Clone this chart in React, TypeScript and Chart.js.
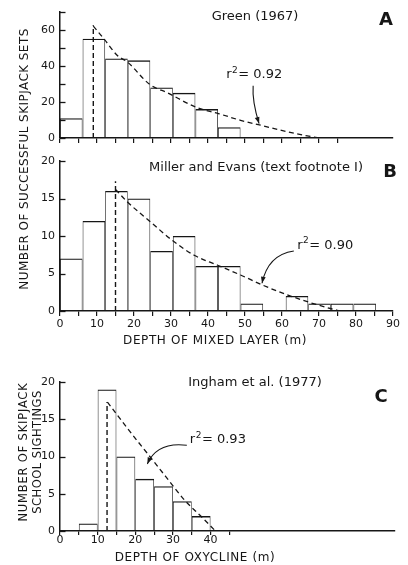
import React, { useEffect, useRef } from 'react';
import { Chart, registerables } from 'chart.js';

Chart.register(...registerables);

// ---------------- data ----------------
// Panel A — Green (1967): successful skipjack sets vs depth of mixed layer (20-ft = 6.1 m bins)
const aBinWidth = 6.1;
const aBinStarts = [0, 6.1, 12.2, 18.3, 24.4, 30.5, 36.6, 42.7];
const aCounts = [11, 55, 44, 43, 28, 25, 16, 6];
const aFitX = [9, 12, 15.5, 18.2, 24.3, 29, 36.8, 43, 48.8, 54.2, 61.4, 66, 70];
const aFitY = [62, 54.6, 45.7, 42.1, 29.6, 25.1, 17, 13.4, 9.8, 7.1, 3.5, 1.5, 0];
const aModeX = 9;
const aModeTop = 62.5;
const aFitLabel = '0.92';

// Panel B — Miller and Evans
const bBinWidth = 6.1;
const bBinStarts = [0, 6.1, 12.2, 18.3, 24.4, 30.5, 36.6, 42.7, 48.8, 54.9, 61.0, 67.1, 73.2, 79.3];
const bCounts = [7, 12, 16, 15, 8, 10, 6, 6, 1, 0, 2, 1, 1, 1];
const bFitX = [15, 18.3, 24.4, 30.4, 36.4, 42.6, 48.8, 55, 61.2, 67.1, 73.3, 75.7];
const bFitY = [16.2, 14.5, 11.9, 9.4, 7.4, 6.1, 4.8, 3.4, 2.2, 1.2, 0.3, 0];
const bModeX = 15;
const bModeTop = 17.3;
const bFitLabel = '0.90';

// Panel C — Ingham et al. (1977): school sightings vs depth of oxycline (5 m bins)
const cBinWidth = 5;
const cBinStarts = [5, 10, 15, 20, 25, 30, 35];
const cCounts = [1, 19, 10, 7, 6, 4, 2];
const cFitX = [12.6, 18.5, 24.5, 28.1, 33, 37.8, 41.3];
const cFitY = [17.3, 13.4, 9.6, 7.3, 4.2, 1.8, 0];
const cModeX = 12.5;
const cModeTop = 17.3;
const cFitLabel = '0.93';

// ---------------- styles ----------------
const INK = '#161616';
const FONT = '"DejaVu Sans", "Liberation Sans", sans-serif';

type Pt = { x: number; y: number };
type TextNote = { text: string; x: number; y: number; font: string; spacing?: number; rotate?: boolean };

type PanelSpec = {
  binStarts: number[];
  binWidth: number;
  counts: number[];
  fitX: number[];
  fitY: number[];
  modeX: number;
  modeTop: number;
  xMax: number;
  yMax: number;
  yStep: number;
  yLabelStep: number;
  top: number;
  bottom: number;
  right: number;
  xAxisHeight: number;
  xTickLen: number;
  xTickLimit: number;
  xLabelLimit: number;
  showXLabels: boolean;
  xLabelPad: number;
  fitLabel: string;
  r2At: Pt; // data coords (left, baseline)
  arrow: { s: Pt; c: Pt; e: Pt }; // data coords
  texts: TextNote[]; // page pixel coords
};

function drawR2(ctx: CanvasRenderingContext2D, x: number, y: number, value: string) {
  ctx.letterSpacing = '0px';
  ctx.textAlign = 'left';
  ctx.textBaseline = 'alphabetic';
  ctx.font = `13px ${FONT}`;
  ctx.fillText('r', x, y);
  let cx = x + ctx.measureText('r').width + 0.5;
  ctx.font = `9px ${FONT}`;
  ctx.fillText('2', cx, y - 5.5);
  cx += ctx.measureText('2').width + 0.5;
  ctx.font = `13px ${FONT}`;
  ctx.fillText('= ' + value, cx, y);
}

function drawArrow(ctx: CanvasRenderingContext2D, s: Pt, c: Pt, e: Pt) {
  ctx.setLineDash([]);
  ctx.lineWidth = 1.1;
  ctx.beginPath();
  ctx.moveTo(s.x, s.y);
  ctx.quadraticCurveTo(c.x, c.y, e.x, e.y);
  ctx.stroke();
  const ang = Math.atan2(e.y - c.y, e.x - c.x);
  const L = 6.5;
  const W = 2.4;
  ctx.beginPath();
  ctx.moveTo(e.x, e.y);
  ctx.lineTo(e.x - L * Math.cos(ang) + W * Math.sin(ang), e.y - L * Math.sin(ang) - W * Math.cos(ang));
  ctx.lineTo(e.x - L * Math.cos(ang) - W * Math.sin(ang), e.y - L * Math.sin(ang) + W * Math.cos(ang));
  ctx.closePath();
  ctx.fill();
}

const inwardYTicks = {
  id: 'inwardYTicks',
  afterDraw(chart: any) {
    const ys = chart.scales.y;
    const ctx: CanvasRenderingContext2D = chart.ctx;
    const left = chart.chartArea.left;
    ctx.save();
    ctx.strokeStyle = INK;
    ctx.lineWidth = 1.3;
    ctx.setLineDash([]);
    ys.ticks.forEach((t: any) => {
      const py = Math.round(ys.getPixelForValue(t.value)) + 0.5;
      ctx.beginPath();
      ctx.moveTo(left, py);
      ctx.lineTo(left + 5.5, py);
      ctx.stroke();
    });
    ctx.restore();
  },
};

function notesPlugin(p: PanelSpec) {
  return {
    id: 'notes',
    afterDraw(chart: any) {
      const ctx: CanvasRenderingContext2D = chart.ctx;
      const xs = chart.scales.x;
      const ys = chart.scales.y;
      const P = (d: Pt): Pt => ({ x: xs.getPixelForValue(d.x), y: ys.getPixelForValue(d.y) });
      ctx.save();
      ctx.fillStyle = INK;
      ctx.strokeStyle = INK;
      for (const t of p.texts) {
        ctx.font = t.font;
        ctx.letterSpacing = `${t.spacing || 0}px`;
        ctx.textAlign = 'center';
        ctx.textBaseline = 'middle';
        if (t.rotate) {
          ctx.save();
          ctx.translate(t.x, t.y);
          ctx.rotate(-Math.PI / 2);
          ctx.fillText(t.text, 0, 0);
          ctx.restore();
        } else {
          ctx.fillText(t.text, t.x, t.y);
        }
      }
      const r = P(p.r2At);
      drawR2(ctx, r.x, r.y, p.fitLabel);
      drawArrow(ctx, P(p.arrow.s), P(p.arrow.c), P(p.arrow.e));
      ctx.restore();
    },
  };
}

function buildConfig(p: PanelSpec): any {
  const bars = p.binStarts.map((s, i) => ({ x: s + p.binWidth / 2, y: p.counts[i] }));
  const fit = p.fitX.map((x, i) => ({ x, y: p.fitY[i] }));
  const mode = [
    { x: p.modeX, y: 0 },
    { x: p.modeX, y: p.modeTop },
  ];
  return {
    type: 'bar',
    data: {
      datasets: [
        {
          type: 'line',
          data: fit,
          borderColor: INK,
          borderWidth: 1.3,
          borderDash: [5, 3.5],
          pointRadius: 0,
          fill: false,
          cubicInterpolationMode: 'monotone',
          order: 0,
        },
        {
          type: 'line',
          data: mode,
          borderColor: INK,
          borderWidth: 1.4,
          borderDash: [5, 3],
          pointRadius: 0,
          fill: false,
          order: 1,
        },
        {
          type: 'bar',
          data: bars,
          backgroundColor: 'rgba(0,0,0,0)',
          borderColor: INK,
          borderWidth: { top: 1.3, left: 0.7, right: 0.7, bottom: 0 },
          borderSkipped: false,
          barThickness: 'flex',
          barPercentage: 1,
          categoryPercentage: 1,
          inflateAmount: 0,
          order: 2,
        },
      ],
    },
    options: {
      responsive: false,
      animation: false,
      devicePixelRatio: 1,
      events: [],
      layout: {
        padding: { left: 0, right: 408 - p.right, top: p.top, bottom: 565 - p.bottom - p.xAxisHeight },
      },
      plugins: {
        legend: { display: false },
        tooltip: { enabled: false },
        title: { display: false },
      },
      scales: {
        x: {
          type: 'linear',
          min: 0,
          max: p.xMax,
          offset: false,
          afterFit: (s: any) => {
            s.height = p.xAxisHeight;
          },
          grid: {
            display: true,
            drawOnChartArea: false,
            drawTicks: true,
            tickLength: p.xTickLen,
            offset: false,
            lineWidth: 1.2,
            color: (c: any) => (c.tick && c.tick.value <= p.xTickLimit ? INK : 'rgba(0,0,0,0)'),
          },
          border: { display: true, color: INK, width: 1.5 },
          ticks: {
            display: p.showXLabels,
            stepSize: 5,
            autoSkip: false,
            maxRotation: 0,
            minRotation: 0,
            padding: p.xLabelPad,
            color: INK,
            font: { family: FONT, size: 11 },
            callback: (v: number) => (v % 10 === 0 && v <= p.xLabelLimit ? String(v) : ''),
          },
        },
        y: {
          type: 'linear',
          min: 0,
          max: p.yMax,
          afterFit: (s: any) => {
            s.width = 60;
          },
          grid: { display: false, drawTicks: false },
          border: { display: true, color: INK, width: 1.5 },
          ticks: {
            stepSize: p.yStep,
            autoSkip: false,
            padding: 5,
            color: INK,
            font: { family: FONT, size: 11 },
            callback: (v: number) => (v % p.yLabelStep === 0 ? String(v) : ''),
          },
        },
      },
    },
    plugins: [inwardYTicks, notesPlugin(p)],
  };
}

const panelA: PanelSpec = {
  binStarts: aBinStarts,
  binWidth: aBinWidth,
  counts: aCounts,
  fitX: aFitX,
  fitY: aFitY,
  modeX: aModeX,
  modeTop: aModeTop,
  xMax: 90,
  yMax: 70,
  yStep: 10,
  yLabelStep: 20,
  top: 7,
  bottom: 138,
  right: 393,
  xAxisHeight: 12,
  xTickLen: 5,
  xTickLimit: 75,
  xLabelLimit: 90,
  showXLabels: false,
  xLabelPad: 2,
  fitLabel: aFitLabel,
  r2At: { x: 44.9, y: 33.1 },
  arrow: { s: { x: 52.2, y: 28.9 }, c: { x: 51.9, y: 20.3 }, e: { x: 53.8, y: 8.0 } },
  texts: [
    { text: 'Green (1967)', x: 255, y: 17, font: `13px ${FONT}` },
    { text: 'A', x: 386, y: 20, font: `bold 18px ${FONT}` },
  ],
};

const panelB: PanelSpec = {
  binStarts: bBinStarts,
  binWidth: bBinWidth,
  counts: bCounts,
  fitX: bFitX,
  fitY: bFitY,
  modeX: bModeX,
  modeTop: bModeTop,
  xMax: 90,
  yMax: 20,
  yStep: 5,
  yLabelStep: 5,
  top: 161,
  bottom: 311,
  right: 393,
  xAxisHeight: 30,
  xTickLen: 5,
  xTickLimit: 90,
  xLabelLimit: 90,
  showXLabels: true,
  xLabelPad: 2,
  fitLabel: bFitLabel,
  r2At: { x: 64.1, y: 8.3 },
  arrow: { s: { x: 63.2, y: 8.0 }, c: { x: 56.2, y: 7.5 }, e: { x: 54.6, y: 3.7 } },
  texts: [
    { text: 'Miller and Evans (text footnote I)', x: 256, y: 168, font: `13px ${FONT}` },
    { text: 'B', x: 390, y: 172, font: `bold 18px ${FONT}` },
    { text: 'DEPTH OF MIXED LAYER (m)', x: 215, y: 341, font: `12px ${FONT}`, spacing: 0.6 },
    { text: 'NUMBER OF SUCCESSFUL SKIPJACK SETS', x: 25, y: 159, font: `12px ${FONT}`, spacing: 0.45, rotate: true },
  ],
};

const panelC: PanelSpec = {
  binStarts: cBinStarts,
  binWidth: cBinWidth,
  counts: cCounts,
  fitX: cFitX,
  fitY: cFitY,
  modeX: cModeX,
  modeTop: cModeTop,
  xMax: 89,
  yMax: 20,
  yStep: 5,
  yLabelStep: 5,
  top: 382,
  bottom: 531,
  right: 395,
  xAxisHeight: 20,
  xTickLen: 4,
  xTickLimit: 45,
  xLabelLimit: 40,
  showXLabels: true,
  xLabelPad: -1,
  fitLabel: cFitLabel,
  r2At: { x: 34.5, y: 11.8 },
  arrow: { s: { x: 33.7, y: 11.5 }, c: { x: 25.8, y: 12.0 }, e: { x: 23.2, y: 9.0 } },
  texts: [
    { text: 'Ingham et al. (1977)', x: 255, y: 383, font: `13px ${FONT}` },
    { text: 'C', x: 381, y: 397, font: `bold 18px ${FONT}` },
    { text: 'DEPTH OF OXYCLINE (m)', x: 195, y: 558, font: `12px ${FONT}`, spacing: 0.6 },
    { text: 'NUMBER OF SKIPJACK', x: 24, y: 452, font: `11.5px ${FONT}`, spacing: 0.8, rotate: true },
    { text: 'SCHOOL SIGHTINGS', x: 38, y: 452, font: `11.5px ${FONT}`, spacing: 0.5, rotate: true },
  ],
};

export default function App() {
  const refA = useRef<HTMLCanvasElement>(null);
  const refB = useRef<HTMLCanvasElement>(null);
  const refC = useRef<HTMLCanvasElement>(null);

  useEffect(() => {
    const charts: Chart[] = [];
    if (refA.current) charts.push(new Chart(refA.current, buildConfig(panelA)));
    if (refB.current) charts.push(new Chart(refB.current, buildConfig(panelB)));
    if (refC.current) charts.push(new Chart(refC.current, buildConfig(panelC)));
    return () => charts.forEach((c) => c.destroy());
  }, []);

  const cs: React.CSSProperties = { position: 'absolute', left: 0, top: 0, width: 408, height: 565 };
  return (
    <div style={{ position: 'fixed', left: 0, top: 0, width: 408, height: 565, background: '#ffffff' }}>
      <canvas ref={refA} width={408} height={565} style={cs} />
      <canvas ref={refB} width={408} height={565} style={cs} />
      <canvas ref={refC} width={408} height={565} style={cs} />
    </div>
  );
}
